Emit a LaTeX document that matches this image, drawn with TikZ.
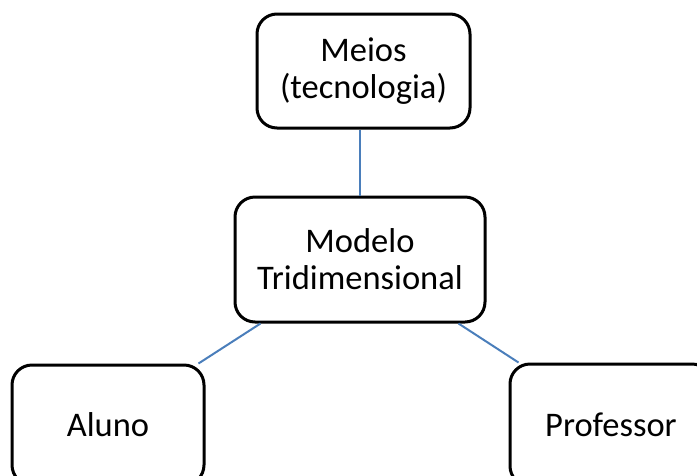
\documentclass[tikz,border=0pt]{standalone}
\usepackage{fontspec}
\setmainfont{Carlito}
\usetikzlibrary{calc}
\definecolor{linkblue}{HTML}{4A7EBB}
\tikzset{
  box/.style={draw=black, line width=3pt, rounded corners=20pt, fill=white,
    align=center, font=\fontsize{34.5}{37}\selectfont, inner sep=0pt},
  link/.style={draw=linkblue, line width=2pt}
}
\begin{document}
\begin{tikzpicture}[x=1pt,y=-1pt]
\useasboundingbox (0,0) rectangle (697,475);
\clip (0,0) rectangle (697,475);
\node[box, minimum width=213pt, minimum height=114pt] (meios) at (363.5,71) {Meios\\(tecnologia)};
\node[box, minimum width=250pt, minimum height=125pt] (modelo) at (360,259.5) {Modelo\\Tridimensional};
\node[box, minimum width=192pt, minimum height=120pt] (aluno) at (108,425) {Aluno};
\node[box, minimum width=202pt, minimum height=122pt] (prof) at (611,425) {Professor};
\draw[link] (modelo.north) -- (modelo.north |- meios.south);
\draw[link] ($(modelo.south west)+(27,0)$) -- ($(aluno.north east)+(-7,0)$);
\draw[link] ($(modelo.south east)+(-28,0)$) -- ($(prof.north west)+(10,0)$);
\end{tikzpicture}
\end{document}
